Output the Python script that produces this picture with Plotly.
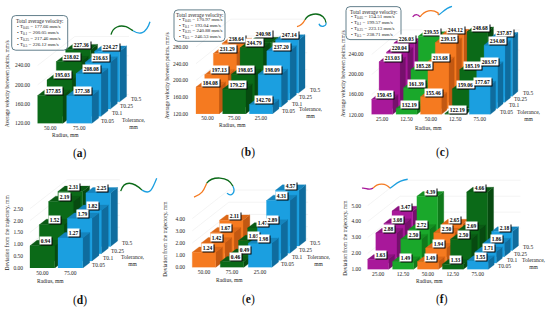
import re
import plotly.graph_objects as go

W, H = 550, 313
FONT = "Liberation Serif"
TOLERANCES = ["T0.05", "T0.1", "T0.25", "T0.5"]

DG, BL, OR, PU, LG = "#0b6a18", "#1b9fe0", "#f57a20", "#a8189a", "#1aa82b"
SHADES = {
    DG: ("#0a5a14", "#074a10"),
    BL: ("#1584bd", "#0f6c9e"),
    OR: ("#dc6818", "#c25812"),
    PU: ("#8d1381", "#76106c"),
    LG: ("#159022", "#107a1b"),
}

# ---------- data ----------
a_radius = ["50.00", "75.00"]
a_colors = [DG, BL]
a_values = [[177.85, 195.03, 218.02, 227.36], [177.38, 208.08, 216.63, 224.27]]
a_ticks = [120, 160, 200, 240]
a_legend = ["177.66", "200.05", "217.46", "226.12"]

b_radius = ["50.00", "75.00", "25.00"]
b_colors = [OR, DG, BL]
b_values = [[184.08, 197.13, 231.29, 238.64], [179.27, 198.05, 244.79, 240.98],
            [142.70, 198.09, 237.20, 247.14]]
b_ticks = [120, 160, 200, 240, 280]
b_legend = ["170.97", "193.04", "240.88", "246.53"]

c_radius = ["25.00", "12.50", "50.00", "12.50", "75.00"]
c_colors = [PU, LG, OR, DG, BL]
c_values = [[150.45, 213.03, 220.04, 226.03], [132.19, 161.39, 185.28, 239.55],
            [155.46, 213.68, 239.15, 244.12], [122.19, 159.06, 185.19, 248.68],
            [177.67, 203.97, 234.08, 237.87]]
c_ticks = [120, 160, 200, 240]
c_legend = ["154.51", "199.57", "223.13", "238.71"]

d_radius = ["50.00", "75.00"]
d_colors = [DG, BL]
d_values = [[0.94, 1.52, 2.19, 2.31], [1.27, 1.79, 1.82, 2.25]]
d_ticks = [0, 0.5, 1, 1.5, 2, 2.5]

e_radius = ["50.00", "75.00", "25.00"]
e_colors = [OR, DG, BL]
e_values = [[1.24, 1.42, 1.67, 2.11], [0.46, 0.49, 1.03, 1.47], [1.98, 2.89, 4.31, 4.57]]
e_ticks = [0, 1, 2, 3, 4]

f_radius = ["25.00", "12.50", "50.00", "12.50", "75.00"]
f_colors = [PU, LG, OR, DG, BL]
f_values = [[1.63, 2.88, 3.08, 3.47], [1.49, 2.50, 2.72, 4.39], [1.49, 1.94, 2.50, 2.65],
            [1.33, 2.50, 2.69, 4.66], [1.55, 1.71, 1.86, 2.18]]
f_ticks = [1, 2, 3, 4, 5]

VEL = "Average velocity between points, mm/s"
DEV = "Deviation from the trajectory, mm"

# layout of each panel, in pixels of the 550x313 page
panels = [
 dict(tag="(a)", radius=a_radius, colors=a_colors, values=a_values, ticks=a_ticks, legend=a_legend, title=VEL,
      left=37.7, bw=25, sp=29, base=124.7, vbase=120, ppu=0.489, step=(9.3, 7.3), x0=31, x1=160, top=0,
      ty=(7, 85), rad=(65, 136.7), tol=(133.5, 124.5), cap=(80, 155), box=(11.7, 15.7, 67.7, 50.7)),
 dict(tag="(b)", radius=b_radius, colors=b_colors, values=b_values, ticks=b_ticks, legend=b_legend, title=VEL,
      left=196, bw=23, sp=26.7, base=115, vbase=120, ppu=0.4225, step=(8.7, 7.0), x0=189, x1=335, top=0,
      ty=(167, 77), rad=(232.7, 126.7), tol=(311, 114), cap=(248, 154), box=(174, 10, 225, 41.7),
      lift={(1, 3): 4}),
 dict(tag="(c)", radius=c_radius, colors=c_colors, values=c_values, ticks=c_ticks, legend=c_legend, title=VEL,
      left=371.7, bw=20.8, sp=24.4, base=115.7, vbase=120, ppu=0.506, step=(7.4, 6.2), x0=364.5, x1=545, top=0,
      ty=(343, 75), rad=(428, 129.3), tol=(529, 117), cap=(442, 154), box=(346, 6.7, 401, 40)),
 dict(tag="(d)", radius=d_radius, colors=d_colors, values=d_values, ticks=d_ticks, legend=None, title=DEV,
      left=30, bw=24.7, sp=28, base=270.7, vbase=0, ppu=24, step=(9.3, 7.3), x0=24, x1=160, top=160,
      ty=(6.7, 235), rad=(50.7, 284), tol=(132.7, 263), cap=(80, 303), box=None),
 dict(tag="(e)", radius=e_radius, colors=e_colors, values=e_values, ticks=e_ticks, legend=None, title=DEV,
      left=192.3, bw=23.4, sp=28, base=270, vbase=0, ppu=12.33, step=(9.1, 7.2), x0=186, x1=335, top=160,
      ty=(165, 241), rad=(229.3, 282.3), tol=(319.3, 263), cap=(248.3, 302), box=None),
 dict(tag="(f)", radius=f_radius, colors=f_colors, values=f_values, ticks=f_ticks, legend=None, title=DEV,
      left=367.7, bw=20.8, sp=24.9, base=272, vbase=1, ppu=16.1, step=(8.1, 6.4), x0=362, x1=545, top=160,
      ty=(345, 240), rad=(429.3, 283.3), tol=(534, 266), cap=(441.7, 302), box=None),
]

# decorative trajectory sketches: (colour, pixel points of a smooth path)
doodles = [
 (DG, "M111 35 C113 27 120 25 126 27 C129 28 131 30 133 31"),
 (BL, "M133 31 C139 35 146 35 150 22"),
 (OR, "M297 27 C301 26 303 24 305 20"),
 (DG, "M305 20 C308 14 318 12 323 17 C325 19 326 21 326 23"),
 (BL, "M326 23 C327 27 320 28 319 24"),
 (PU, "M412.7 17 C415 14 418 14 420 17"),
 (OR, "M420 17 C425 10 432 9 438 13 C439 14 437 14 439 15"),
 (BL, "M439 15 C444 11 446 8 452 6.5"),
 (DG, "M120.7 193 C124 182 133 183 142 192"),
 (BL, "M142 192 C150 197 152 192 156.7 180"),
 (OR, "M194 199 C203 196 204 191 206.7 185"),
 (DG, "M206.7 185 C212 178 228 177 233 188"),
 (BL, "M233 188 C236 195 231 199 227 195"),
 (PU, "M362 190 C366 189 368 193 373 190"),
 (OR, "M373 190 C378 184 386 185 390 190"),
 (BL, "M390 190 C396 186 398 182 407.7 181"),
]


def fx(px):
    return px / W


def fy(py):
    return 1 - py / H


fig = go.Figure()
annotations, shapes = [], []


def add_poly(xs, ys, color, xa, ya):
    fig.add_trace(go.Scatter(x=xs + xs[:1], y=ys + ys[:1], mode="lines", fill="toself",
                             fillcolor=color, line=dict(color=color, width=0.3),
                             hoverinfo="skip", showlegend=False, xaxis=xa, yaxis=ya))


def text_px(x, y, text, size=5.5, **kw):
    annotations.append(dict(x=fx(x), y=fy(y), xref="paper", yref="paper", text=text, showarrow=False,
                            font=dict(family=FONT, size=size, color=kw.pop("color", "#222")),
                            xanchor=kw.pop("xanchor", "center"), yanchor="middle", **kw))


for i, p in enumerate(panels):
    suffix = "" if i == 0 else str(i + 1)
    xa, ya = "x" + suffix, "y" + suffix
    n = len(p["radius"])
    first_center = p["left"] + p["bw"] / 2
    unit_w = p["bw"] / p["sp"]
    dx = p["step"][0] / p["sp"]
    dy = p["step"][1] / p["ppu"]
    depth = 0.75
    xr = [(p["x0"] - first_center) / p["sp"], (p["x1"] - first_center) / p["sp"]]
    yr = [p["vbase"], p["vbase"] + (p["base"] - p["top"]) / p["ppu"]]

    fig.layout[("xaxis" + suffix)] = dict(
        domain=[fx(p["x0"]), fx(p["x1"])], range=xr, anchor=ya, tickmode="array",
        tickvals=list(range(n)), ticktext=p["radius"], showgrid=False, zeroline=False, showline=False,
        ticks="", tickangle=0, tickfont=dict(family=FONT, size=5.5, color="#222"), fixedrange=True)
    fig.layout[("yaxis" + suffix)] = dict(
        domain=[fy(p["base"]), fy(p["top"])], range=yr, anchor=xa, tickmode="array",
        tickvals=p["ticks"], ticktext=["%.2f" % t for t in p["ticks"]], showgrid=False, zeroline=False,
        showline=False, ticks="", tickfont=dict(family=FONT, size=5.5, color="#222"), fixedrange=True)

    # faint wall grid lines
    gx, gy = [], []
    lx = -unit_w / 2
    rx = n - 1 + unit_w / 2 + 4 * dx
    for t in p["ticks"]:
        gx += [lx, lx + 4 * dx, rx, None]
        gy += [t, t + 4 * dy, t + 4 * dy, None]
    fig.add_trace(go.Scatter(x=gx, y=gy, mode="lines", line=dict(color="#ececec", width=0.6),
                             hoverinfo="skip", showlegend=False, xaxis=xa, yaxis=ya))

    # bars: back row first, left to right inside a row
    labels = []
    lift = p.get("lift", {})
    for row in range(3, -1, -1):
        for c in range(n):
            v = p["values"][c][row]
            col = p["colors"][c]
            top_c, side_c = SHADES[col]
            xl, xh = c - unit_w / 2 + row * dx, c + unit_w / 2 + row * dx
            yb, yt = p["vbase"] + row * dy, v + row * dy
            ox, oy = depth * dx, depth * dy
            add_poly([xh, xh + ox, xh + ox, xh], [yb, yb + oy, yt + oy, yt], side_c, xa, ya)
            add_poly([xl, xl + ox, xh + ox, xh], [yt, yt + oy, yt + oy, yt], top_c, xa, ya)
            add_poly([xl, xh, xh, xl], [yb, yb, yt, yt], col, xa, ya)
            labels.append((c + row * dx + 0.45 * ox, yt + 0.95 * oy, "%.2f" % v, lift.get((c, row), 0)))

    # value labels: dark offset copy as shadow, then white plate
    for lxv, lyv, txt, up in labels:
        for color, bg, sx, sy in (("#000", "#000", 1, -1), ("#000", "#fff", 0, 0)):
            annotations.append(dict(x=lxv, y=lyv, xref=xa, yref=ya, text="<b>%s</b>" % txt, showarrow=False,
                                    font=dict(family=FONT, size=5.5, color=color), bgcolor=bg,
                                    borderpad=0.7, xshift=sx, yshift=sy + up))

    # tolerance row names
    for row, name in enumerate(TOLERANCES):
        annotations.append(dict(x=n - 1 + unit_w / 2 + row * dx, y=p["vbase"] + row * dy, xref=xa, yref=ya,
                                text=name, showarrow=False, xshift=16, yshift=3,
                                font=dict(family=FONT, size=5.5, color="#222")))

    text_px(p["ty"][0], p["ty"][1], p["title"], textangle=-90)
    text_px(p["rad"][0], p["rad"][1], "Radius, mm")
    text_px(p["tol"][0], p["tol"][1], "Tolerance,<br>mm")
    letter = p["tag"][1]
    text_px(p["cap"][0], p["cap"][1], "(<b>%s</b>)" % letter, size=11.5, color="#111")

    if p["box"]:
        x0, y0, x1, y1 = p["box"]
        r = 4
        path = ("M{a} {t} L{b} {t} Q{c} {t} {c} {u} L{c} {v} Q{c} {d} {b} {d} L{a} {d} Q{e} {d} {e} {v} "
                "L{e} {u} Q{e} {t} {a} {t} Z").format(
            a=fx(x0 + r), b=fx(x1 - r), c=fx(x1), e=fx(x0), t=fy(y0), u=fy(y0 + r), v=fy(y1 - r), d=fy(y1))
        shapes.append(dict(type="path", path=path, xref="paper", yref="paper",
                           line=dict(color="#3c5f6e", width=0.8), fillcolor="rgba(255,255,255,0)"))
        pitch = (y1 - y0 - 4) / 5
        text_px((x0 + x1) / 2, y0 + 2 + pitch / 2, "Total average velocity:", size=5.2)
        for k, (name, val) in enumerate(zip(TOLERANCES, p["legend"])):
            text_px(x0 + 3, y0 + 2 + pitch * (k + 1.5),
                    "• T<sub>%s</sub> = %s mm/s" % (name[1:], val), size=5, xanchor="left")

# doodles as SVG paths converted to paper fractions
for color, d in doodles:
    toks = re.findall(r"[MC]|-?\d+\.?\d*", d)
    out, is_x = [], True
    for t in toks:
        if t in "MC":
            out.append(t)
            is_x = True
        else:
            out.append("%.5f" % (fx(float(t)) if is_x else fy(float(t))))
            is_x = not is_x
    shapes.append(dict(type="path", path=" ".join(out), xref="paper", yref="paper",
                       line=dict(color=color, width=1.3), fillcolor="rgba(0,0,0,0)"))

fig.update_layout(width=W, height=H, margin=dict(l=0, r=0, t=0, b=0), paper_bgcolor="#fff",
                  plot_bgcolor="rgba(0,0,0,0)", showlegend=False, annotations=annotations, shapes=shapes,
                  font=dict(family=FONT))
fig.write_html("out.html", config=dict(displayModeBar=False),
               post_script="document.body.style.margin='0';document.documentElement.style.overflow='hidden';")
